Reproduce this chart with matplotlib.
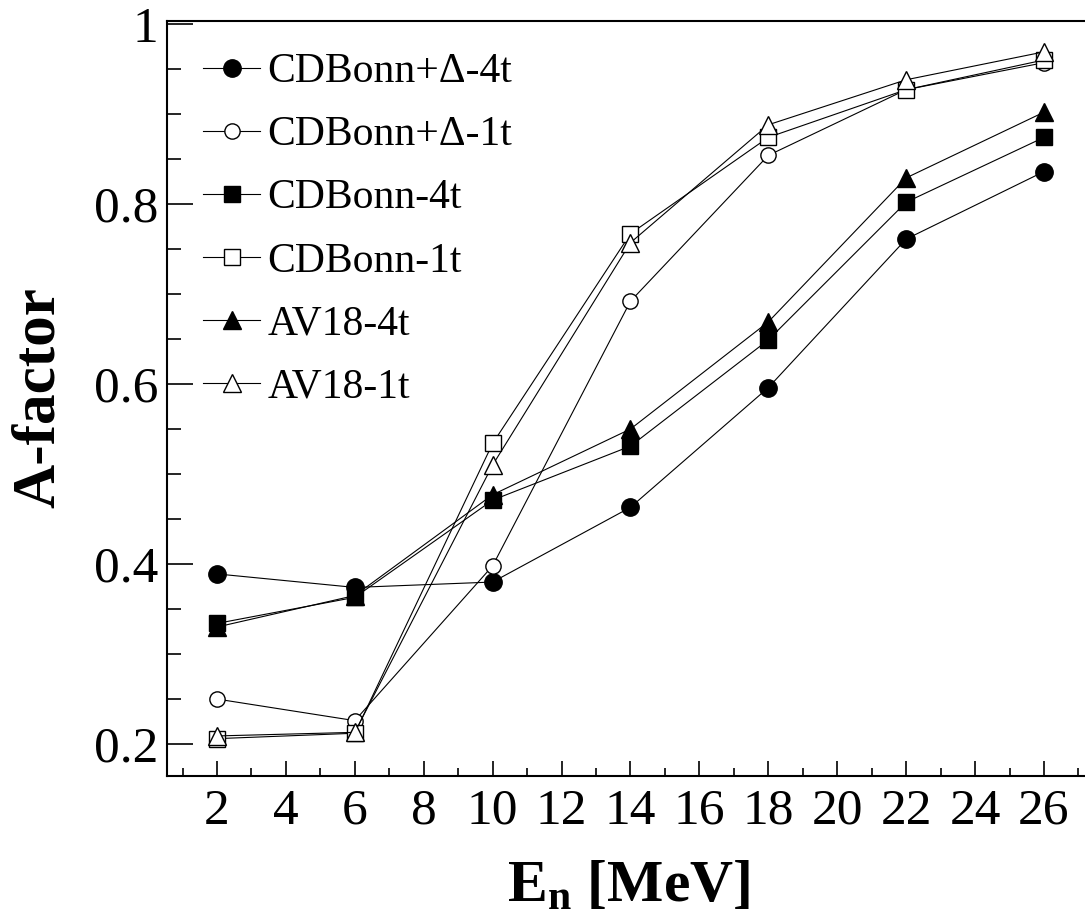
import matplotlib
matplotlib.use("Agg")
import matplotlib.pyplot as plt
from matplotlib.ticker import MultipleLocator, FixedLocator

plt.rcParams['font.family'] = ['Liberation Serif', 'DejaVu Serif']
plt.rcParams['mathtext.fontset'] = 'custom'
plt.rcParams['mathtext.rm'] = 'Liberation Serif'
plt.rcParams['mathtext.bf'] = 'Liberation Serif:bold'

energies = [2, 6, 10, 14, 18, 22, 26]
cdb_delta_4t = [0.389, 0.374, 0.380, 0.463, 0.596, 0.761, 0.836]
cdb_delta_1t = [0.250, 0.226, 0.398, 0.692, 0.854, 0.927, 0.957]
cdb_4t = [0.334, 0.363, 0.471, 0.531, 0.649, 0.802, 0.874]
cdb_1t = [0.206, 0.212, 0.534, 0.767, 0.874, 0.927, 0.960]
av18_4t = [0.330, 0.365, 0.477, 0.550, 0.669, 0.829, 0.902]
av18_1t = [0.209, 0.213, 0.510, 0.757, 0.888, 0.938, 0.969]
labels = ['CDBonn+Δ-4t', 'CDBonn+Δ-1t', 'CDBonn-4t', 'CDBonn-1t', 'AV18-4t', 'AV18-1t']
y_ticks = [0.2, 0.4, 0.6, 0.8, 1.0]
y_ticklabels = ['0.2', '0.4', '0.6', '0.8', '1']
x_ticks = [2, 4, 6, 8, 10, 12, 14, 16, 18, 20, 22, 24, 26]

W, H = 1085, 915
fig = plt.figure(figsize=(W / 100, H / 100), dpi=100)
ax = fig.add_axes([167 / W, (H - 776) / H, 1 - 167 / W, (776 - 21) / H])

series = [cdb_delta_4t, cdb_delta_1t, cdb_4t, cdb_1t, av18_4t, av18_1t]
styles = [('o', 'black', 12.5), ('o', 'white', 11), ('s', 'black', 11),
          ('s', 'white', 11), ('^', 'black', 12.5), ('^', 'white', 12.5)]
for vals, lab, (m, fc, ms) in zip(series, labels, styles):
    ax.plot(energies, vals, color='black', lw=0.8, marker=m, markersize=ms,
            markerfacecolor=fc, markeredgecolor='black', markeredgewidth=1.0,
            label=lab)

ax.set_xlim(0.55, 27.19)
ax.set_ylim(0.1645, 1.0033)
ax.xaxis.set_major_locator(FixedLocator(x_ticks))
ax.xaxis.set_minor_locator(MultipleLocator(1))
ax.set_yticks(y_ticks)
ax.set_yticklabels(y_ticklabels)
ax.yaxis.set_minor_locator(MultipleLocator(0.05))

ax.tick_params(axis='both', which='both', direction='in', width=1.2,
               top=False, right=False, labelsize=37)
ax.tick_params(axis='x', which='major', length=11, pad=9)
ax.tick_params(axis='x', which='minor', length=6)
ax.tick_params(axis='y', which='major', length=19, pad=6)
ax.tick_params(axis='y', which='minor', length=10)
for s in ['left', 'bottom', 'top']:
    ax.spines[s].set_linewidth(1.5)
ax.spines['right'].set_visible(False)

leg = ax.legend(loc='upper left', bbox_to_anchor=(0.0215, 0.98), frameon=False,
                fontsize=30, handlelength=1.35, handletextpad=0.18,
                labelspacing=0.59, borderaxespad=0)

fig.text(39 / W, 1 - 398 / H, 'A-factor', rotation=90, fontsize=44,
         fontweight='bold', ha='center', va='center')
fig.text(629 / W, 1 - 902 / H, r'$\mathbf{E_n}$ [MeV]', fontsize=43,
         fontweight='bold', ha='center', va='baseline')

fig.savefig('out.png', dpi=100)
